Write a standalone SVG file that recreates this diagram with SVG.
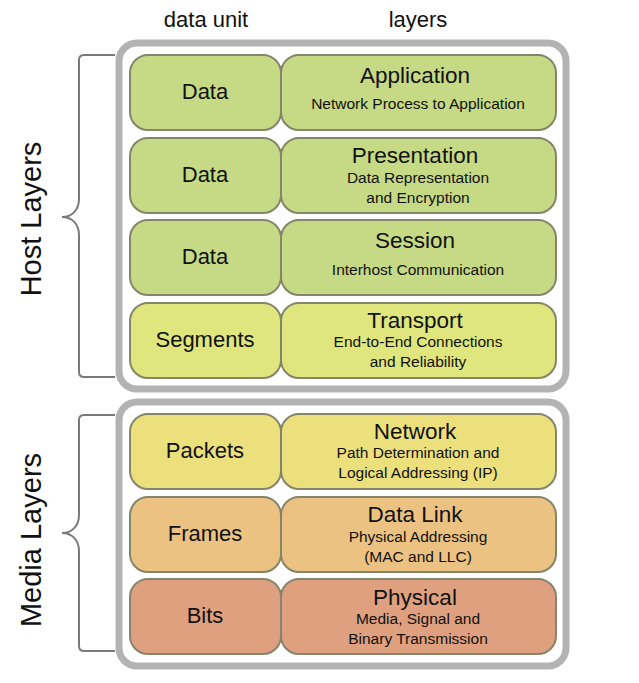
<svg xmlns="http://www.w3.org/2000/svg" width="639" height="683" viewBox="0 0 639 683">
<style>
text{font-family:"Liberation Sans",Arial,sans-serif;fill:#111;text-anchor:middle}
.hdr{font-size:22px}
.side{font-size:29px}
.unit{font-size:22px}
.ttl{font-size:22.5px}
.sub{font-size:15.5px}
.outer{fill:#fff;stroke:#b3b3b3;stroke-width:7}
.box{stroke:#85856b;stroke-width:2}
.brace{fill:none;stroke:#7a7a7a;stroke-width:2}
.c1{fill:#c6d985}
.c2{fill:#dee67d}
.c3{fill:#ece07d}
.c4{fill:#ecc282}
.c5{fill:#dea07f}
</style>
<rect width="639" height="683" fill="#fff"/>
<text class="hdr" x="206" y="27">data unit</text>
<text class="hdr" x="418" y="27">layers</text>

<g id="host-group">
<rect class="outer" x="119" y="43" width="447" height="346" rx="18"/>
</g>
<g id="media-group">
<rect class="outer" x="119" y="402" width="447" height="264" rx="18"/>
</g>

<g id="connectors">
<path id="host-brace" class="brace" d="M115,55 H84 Q79,55 79,60 V199 C79,210 72,217 62,217 C72,217 79,224 79,235 V372 Q79,377 84,377 H115"/>
<path id="media-brace" class="brace" d="M115,415 H84 Q79,415 79,420 V515 C79,526 72,533 62,533 C72,533 79,540 79,551 V646 Q79,651 84,651 H115"/>
</g>

<text class="side" transform="translate(41,219) rotate(-90)">Host Layers</text>
<text class="side" transform="translate(41,540) rotate(-90)">Media Layers</text>

<g id="unit-app"><rect class="box c1" x="130" y="55" width="151" height="75" rx="18"/><text class="unit" x="205" y="99">Data</text></g>
<g id="layer-app"><rect class="box c1" x="281" y="55" width="275" height="75" rx="18"/><text class="ttl" x="415" y="83">Application</text><text class="sub" x="418" y="109">Network Process to Application</text></g>

<g id="unit-pres"><rect class="box c1" x="130" y="138" width="151" height="75" rx="18"/><text class="unit" x="205" y="182">Data</text></g>
<g id="layer-pres"><rect class="box c1" x="281" y="138" width="275" height="75" rx="18"/><text class="ttl" x="415" y="163">Presentation</text><text class="sub" x="418" y="183">Data Representation</text><text class="sub" x="418" y="203">and Encryption</text></g>

<g id="unit-sess"><rect class="box c1" x="130" y="220" width="151" height="75" rx="18"/><text class="unit" x="205" y="264">Data</text></g>
<g id="layer-sess"><rect class="box c1" x="281" y="220" width="275" height="75" rx="18"/><text class="ttl" x="415" y="248">Session</text><text class="sub" x="418" y="275">Interhost Communication</text></g>

<g id="unit-trans"><rect class="box c2" x="130" y="303" width="151" height="75" rx="18"/><text class="unit" x="205" y="347">Segments</text></g>
<g id="layer-trans"><rect class="box c2" x="281" y="303" width="275" height="75" rx="18"/><text class="ttl" x="415" y="328">Transport</text><text class="sub" x="418" y="347">End-to-End Connections</text><text class="sub" x="418" y="367">and Reliability</text></g>

<g id="unit-net"><rect class="box c3" x="130" y="414" width="151" height="75" rx="18"/><text class="unit" x="205" y="458">Packets</text></g>
<g id="layer-net"><rect class="box c3" x="281" y="414" width="275" height="75" rx="18"/><text class="ttl" x="415" y="439">Network</text><text class="sub" x="418" y="458">Path Determination and</text><text class="sub" x="418" y="478">Logical Addressing (IP)</text></g>

<g id="unit-dl"><rect class="box c4" x="130" y="497" width="151" height="75" rx="18"/><text class="unit" x="205" y="541">Frames</text></g>
<g id="layer-dl"><rect class="box c4" x="281" y="497" width="275" height="75" rx="18"/><text class="ttl" x="415" y="522">Data Link</text><text class="sub" x="418" y="542">Physical Addressing</text><text class="sub" x="418" y="562">(MAC and LLC)</text></g>

<g id="unit-phy"><rect class="box c5" x="130" y="579" width="151" height="75" rx="18"/><text class="unit" x="205" y="623">Bits</text></g>
<g id="layer-phy"><rect class="box c5" x="281" y="579" width="275" height="75" rx="18"/><text class="ttl" x="415" y="605">Physical</text><text class="sub" x="418" y="624">Media, Signal and</text><text class="sub" x="418" y="644">Binary Transmission</text></g>
</svg>
